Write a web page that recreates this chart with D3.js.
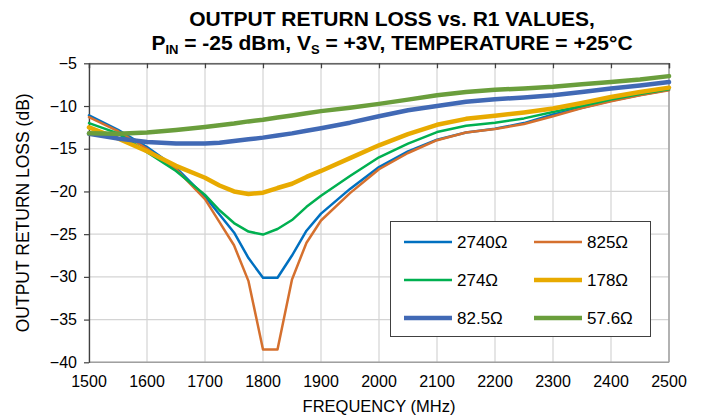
<!DOCTYPE html>
<html>
<head>
<meta charset="utf-8">
<script src="https://cdn.jsdelivr.net/npm/d3@7"></script>
<style>
  html, body { margin: 0; padding: 0; background: #fff; }
  svg { display: block; font-family: "Liberation Sans", Arial, sans-serif; }
</style>
</head>
<body>
<svg id="chart" width="704" height="418"></svg>
<script>
// Frequency sweep points (MHz)
const freqs = [1500, 1550, 1600, 1650, 1700, 1725, 1750, 1775, 1800, 1825, 1850, 1875, 1900,
               1950, 2000, 2050, 2100, 2150, 2200, 2250, 2300, 2350, 2400, 2450, 2500];

// Output return loss (dB) for each R1 value
const rl2740 = [-11.1, -12.8, -14.8, -17.2, -20.6, -22.7, -24.8, -27.8, -30.1, -30.1, -27.5, -24.6, -22.6,
                -19.7, -17.15, -15.3, -13.95, -13.1, -12.65, -12.0, -11.0, -10.2, -9.4, -8.7, -8.1];
const rl825  = [-11.3, -12.95, -15.0, -17.4, -20.9, -23.6, -26.3, -30.5, -38.5, -38.5, -30.3, -26.0, -23.4,
                -20.2, -17.4, -15.5, -14.0, -13.1, -12.7, -12.1, -11.2, -10.25, -9.45, -8.75, -8.15];
const rl274  = [-12.0, -13.2, -15.4, -17.6, -20.4, -22.2, -23.7, -24.7, -25.05, -24.4, -23.35, -21.8, -20.5,
                -18.2, -16.0, -14.4, -13.05, -12.3, -11.95, -11.45, -10.7, -10.0, -9.25, -8.6, -8.05];
const rl178  = [-12.5, -13.8, -15.3, -17.0, -18.4, -19.3, -20.0, -20.3, -20.15, -19.6, -19.1, -18.3, -17.6,
                -16.1, -14.6, -13.3, -12.2, -11.5, -11.15, -10.75, -10.3, -9.65, -8.95, -8.35, -7.85];
const rl82_5 = [-13.25, -13.8, -14.2, -14.4, -14.4, -14.3, -14.1, -13.9, -13.7, -13.45, -13.2, -12.9, -12.6,
                -11.95, -11.2, -10.5, -10.0, -9.5, -9.2, -9.0, -8.75, -8.35, -7.95, -7.6, -7.2];
const rl57_6 = [-13.2, -13.25, -13.1, -12.8, -12.45, -12.25, -12.05, -11.8, -11.6, -11.35, -11.1, -10.85, -10.6,
                -10.2, -9.75, -9.25, -8.75, -8.35, -8.1, -7.95, -7.75, -7.45, -7.2, -6.9, -6.5];

const seriesNames = ["2740\u03A9", "825\u03A9", "274\u03A9", "178\u03A9", "82.5\u03A9", "57.6\u03A9"];
const seriesValues = [rl2740, rl825, rl274, rl178, rl82_5, rl57_6];
const seriesColors = ["#0070C0", "#D5702E", "#00B050", "#E8AA00", "#4169B5", "#6A9E3C"];
const seriesWidths = [2.5, 2.5, 2.5, 4.5, 4.5, 4.5];

const xTicks = [1500, 1600, 1700, 1800, 1900, 2000, 2100, 2200, 2300, 2400, 2500];
const yTicks = [-5, -10, -15, -20, -25, -30, -35, -40];

const svg = d3.select("#chart");
const plotLeft = 89, plotRight = 669, plotTop = 63.3, plotBottom = 362.3;

const x = d3.scaleLinear().domain([1500, 2500]).range([plotLeft, plotRight]);
const y = d3.scaleLinear().domain([-40, -5]).range([plotBottom, plotTop]);

// Gridlines
const grid = svg.append("g");
grid.selectAll("line.h").data(yTicks).join("line").attr("class", "h")
  .attr("x1", plotLeft).attr("x2", plotRight)
  .attr("y1", d => y(d)).attr("y2", d => y(d))
  .attr("stroke", "#d4d4d4").attr("stroke-width", 1.2);
grid.selectAll("line.v").data(xTicks).join("line").attr("class", "v")
  .attr("y1", plotTop).attr("y2", plotBottom)
  .attr("x1", d => x(d)).attr("x2", d => x(d))
  .attr("stroke", "#d4d4d4").attr("stroke-width", 1.2);

// Plot frame (right and bottom edges)
svg.append("line").attr("x1", plotRight).attr("x2", plotRight).attr("y1", plotTop).attr("y2", plotBottom)
  .attr("stroke", "#a0a0a0").attr("stroke-width", 1.5);
svg.append("line").attr("x1", plotLeft).attr("x2", plotRight).attr("y1", plotBottom).attr("y2", plotBottom)
  .attr("stroke", "#a0a0a0").attr("stroke-width", 1.5);

// Category axis line sits on the top edge, ticks point down
const xAxis = d3.axisBottom(x).tickValues(xTicks).tickSize(5).tickFormat("");
const gx = svg.append("g").attr("transform", `translate(0,${plotTop})`).call(xAxis);
gx.select(".domain").attr("stroke", "#404040").attr("stroke-width", 1.3);
gx.selectAll(".tick line").attr("stroke", "#404040").attr("stroke-width", 1.2);

// Value axis on the left
const yAxis = d3.axisLeft(y).tickValues(yTicks).tickSize(5).tickSizeOuter(0).tickPadding(7)
  .tickFormat(d3.format("d"));
const gy = svg.append("g").attr("transform", `translate(${plotLeft},0)`).call(yAxis);
gy.select(".domain").attr("stroke", "#404040").attr("stroke-width", 1.3);
gy.selectAll(".tick line").attr("stroke", "#404040").attr("stroke-width", 1.2);
gy.selectAll(".tick text").attr("font-size", 16).attr("fill", "#000")
  .attr("font-family", "Liberation Sans, Arial, sans-serif");

// Frequency labels along the bottom
svg.append("g").selectAll("text").data(xTicks).join("text")
  .attr("x", d => x(d)).attr("y", plotBottom + 25)
  .attr("text-anchor", "middle").attr("font-size", 16).attr("fill", "#000")
  .text(d => d);

// Data lines
const line = d3.line().x((d, i) => x(freqs[i])).y(d => y(d)).curve(d3.curveLinear);
svg.append("g").selectAll("path").data(seriesValues).join("path")
  .attr("d", d => line(d))
  .attr("fill", "none")
  .attr("stroke", (d, i) => seriesColors[i])
  .attr("stroke-width", (d, i) => seriesWidths[i])
  .attr("stroke-linejoin", "round").attr("stroke-linecap", "round");

// Legend
const lg = svg.append("g");
lg.append("rect").attr("x", 390.5).attr("y", 221.5).attr("width", 260).attr("height", 115)
  .attr("fill", "#fff").attr("stroke", "#404040").attr("stroke-width", 1);
const colX = [404, 534];
const rowY = [242, 280, 318];
seriesNames.forEach((name, i) => {
  const cx = colX[i % 2], cy = rowY[Math.floor(i / 2)];
  lg.append("line").attr("x1", cx).attr("x2", cx + 48).attr("y1", cy).attr("y2", cy)
    .attr("stroke", seriesColors[i]).attr("stroke-width", seriesWidths[i]);
  lg.append("text").attr("x", cx + 53).attr("y", cy + 6)
    .attr("font-size", 17).attr("fill", "#000").text(name);
});

// Axis titles
svg.append("text").attr("x", (plotLeft + plotRight) / 2).attr("y", 412)
  .attr("text-anchor", "middle").attr("font-size", 16.5).attr("fill", "#000")
  .text("FREQUENCY (MHz)");
svg.append("text").attr("transform", `translate(29,${(plotTop + plotBottom) / 2}) rotate(-90)`)
  .attr("text-anchor", "middle").attr("font-size", 17.5).attr("fill", "#000")
  .text("OUTPUT RETURN LOSS (dB)");

// Chart title
const title = svg.append("g").attr("font-weight", "bold").attr("font-size", 21).attr("fill", "#000");
title.append("text").attr("x", 392).attr("y", 26).attr("text-anchor", "middle")
  .text("OUTPUT RETURN LOSS vs. R1 VALUES,");
const t2 = title.append("text").attr("x", 392).attr("y", 50).attr("text-anchor", "middle");
t2.append("tspan").text("P");
t2.append("tspan").attr("font-size", 13).attr("dy", 4).text("IN");
t2.append("tspan").attr("dy", -4).text(" = -25 dBm, V");
t2.append("tspan").attr("font-size", 13).attr("dy", 4).text("S");
t2.append("tspan").attr("dy", -4).text(" = +3V, TEMPERATURE = +25\u00B0C");
</script>
</body>
</html>
